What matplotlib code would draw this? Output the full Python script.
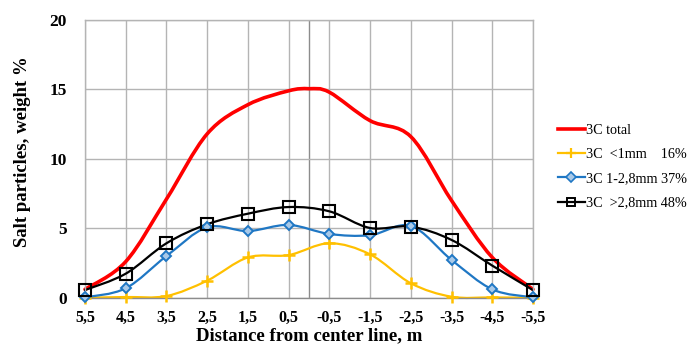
import matplotlib
matplotlib.use('Agg')
import matplotlib.pyplot as plt
from matplotlib.path import Path
from matplotlib.patches import PathPatch
from matplotlib.lines import Line2D
import numpy as np

# distances from center line (m)
dist = [5.5, 4.5, 3.5, 2.5, 1.5, 0.5, -0.5, -1.5, -2.5, -3.5, -4.5, -5.5]
tick_labels = ['5,5', '4,5', '3,5', '2,5', '1,5', '0,5', '-0,5', '-1,5', '-2,5', '-3,5', '-4,5', '-5,5']

dist_total = [5.5, 4.5, 3.5, 2.5, 1.5, 0.5, 0.0, -0.5, -1.5, -2.5, -3.5, -4.5, -5.5]
total = [0.6, 2.6, 7.1, 11.8, 13.9, 14.9, 15.05, 14.8, 12.75, 11.6, 7.0, 2.9, 0.6]

fine = [0.0, 0.05, 0.12, 1.23, 2.9, 3.07, 3.92, 3.12, 1.04, 0.07, 0.02, 0.0]
mid = [0.02, 0.68, 3.0, 5.07, 4.8, 5.24, 4.59, 4.5, 5.17, 2.72, 0.6, 0.02]
coarse = [0.55, 1.73, 3.92, 5.29, 6.05, 6.53, 6.22, 5.02, 5.12, 4.16, 2.31, 0.55]

labels = ['3C total', '3C  <1mm    16%', '3C 1-2,8mm 37%', '3C  >2,8mm 48%']

red = '#ff0000'
yellow = '#ffc000'
blue = '#1f77c4'
black = '#000000'


def smooth_path(xs, ys):
    # excel style smoothed line: cubic bezier between neighbouring points
    p = np.column_stack([xs, ys]).astype(float)
    n = len(p)
    verts = [p[0]]
    codes = [Path.MOVETO]
    for i in range(n - 1):
        p0 = p[i - 1] if i > 0 else p[i]
        p3 = p[i + 2] if i + 2 < n else p[i + 1]
        c1 = p[i] + (p[i + 1] - p0) / 6.0
        c2 = p[i + 1] - (p3 - p[i]) / 6.0
        verts += [c1, c2, p[i + 1]]
        codes += [Path.CURVE4] * 3
    return Path(verts, codes)


plt.rcParams['font.family'] = ['Liberation Serif', 'DejaVu Serif']

fig = plt.figure(figsize=(6.91, 3.47), dpi=100)
ax = fig.add_axes([85 / 691, 1 - 297.7 / 347, 448 / 691, 277.7 / 347])

ax.set_xlim(5.5, -5.5)
ax.set_ylim(0, 20)

grid_color = '#b4b4b4'
ax.set_xticks(dist)
ax.set_xticklabels(tick_labels, fontweight='bold', fontsize=11.5)
ax.set_yticks([0, 5, 10, 15, 20])
ax.set_yticklabels(['0', '5', '10', '15', '20'], fontweight='bold', fontsize=12.5)
ax.tick_params(axis='x', length=0, pad=9)
ax.tick_params(axis='y', length=0, pad=13)
ax.grid(True, color=grid_color, linewidth=1)
ax.set_axisbelow(True)
for s in ax.spines.values():
    s.set_color(grid_color)
    s.set_linewidth(1)
ax.spines['bottom'].set_color('#8c8c8c')
ax.axvline(0, color='#8c8c8c', linewidth=1, zorder=0.5)

series = [
    (dist_total, total, red, 2.6, None),
    (dist, fine, yellow, 1.6, '+'),
    (dist, mid, blue, 1.6, 'D'),
    (dist, coarse, black, 1.6, 's'),
]

handles = []
for (xs, ys, col, lw, mk), lab in zip(series, labels):
    patch = PathPatch(smooth_path(xs, ys), facecolor='none', edgecolor=col,
                      linewidth=lw, capstyle='round', joinstyle='round')
    patch.set_clip_on(False)
    ax.add_patch(patch)
    if mk == '+':
        ax.plot(xs, ys, linestyle='none', marker='+', markersize=8,
                markeredgewidth=1.8, color=col, zorder=3, clip_on=False)
    elif mk == 'D':
        ax.plot(xs, ys, linestyle='none', marker='D', markersize=5,
                markeredgewidth=1.4, markerfacecolor='#a9c9e8',
                markeredgecolor=col, zorder=3, clip_on=False)
    elif mk == 's':
        ax.plot(xs, ys, linestyle='none', marker='s', markersize=8,
                markeredgewidth=1.5, markerfacecolor='none',
                markeredgecolor=col, zorder=3, clip_on=False)
    if mk is None:
        h = Line2D([], [], color=col, linewidth=lw)
    elif mk == 'D':
        h = Line2D([], [], color=col, linewidth=lw, marker='D', markersize=5,
                   markerfacecolor='#a9c9e8', markeredgewidth=1.2)
    elif mk == 's':
        h = Line2D([], [], color=col, linewidth=lw, marker='s', markersize=6,
                   markerfacecolor='none', markeredgewidth=1.4)
    else:
        h = Line2D([], [], color=col, linewidth=lw, marker='+', markersize=7,
                   markeredgewidth=1.6)
    handles.append(h)

ax.set_xlabel('Distance from center line, m', fontweight='bold', fontsize=13.5, labelpad=1)
ax.set_ylabel('Salt particles, weight %', fontweight='bold', fontsize=13.5)
ax.yaxis.set_label_coords(-54 / 448, (297.7 - 151.5) / 277.7)

fig.legend(handles, labels, loc='upper left', bbox_to_anchor=(552 / 691, 1 - 118 / 347),
           frameon=False, fontsize=10.2, handlelength=1.9, handletextpad=0.1,
           labelspacing=0.8, borderaxespad=0)

fig.savefig('out.png', dpi=100)
